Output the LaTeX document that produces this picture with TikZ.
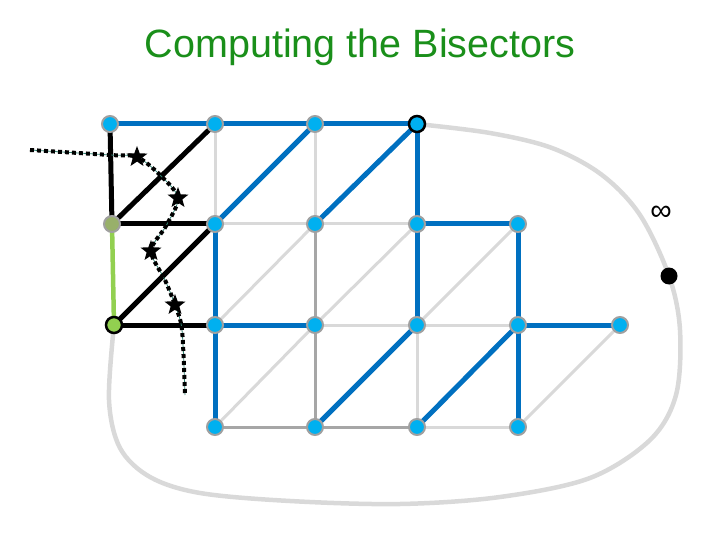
\documentclass[tikz,border=0pt]{standalone}
\usepackage{fontspec}
\setmainfont{Liberation Sans}
\usetikzlibrary{shapes.geometric}
\definecolor{eblue}{HTML}{0070C0}
\definecolor{vcyan}{HTML}{00B0F0}
\definecolor{vgrey}{HTML}{A0A0A0}
\definecolor{lgrey}{HTML}{D9D9D9}
\definecolor{mgrey}{HTML}{A6A6A6}
\definecolor{egreen}{HTML}{92D050}
\definecolor{ggreen}{HTML}{98B06A}
\definecolor{tgreen}{HTML}{1A8F1A}
\definecolor{teal}{HTML}{2F7F6F}
\tikzset{
  vtx/.style={circle,fill=vcyan,draw=vgrey,line width=2pt,minimum size=16pt,inner sep=0pt},
  vtxb/.style={vtx,draw=black,line width=2.5pt},
  lightedge/.style={draw=lgrey,line width=3pt},
  midedge/.style={draw=mgrey,line width=3pt},
  blueedge/.style={draw=eblue,line width=5pt},
  blackedge/.style={draw=black,line width=5pt},
  greenedge/.style={draw=egreen,line width=4.5pt},
  outer/.style={draw=lgrey,line width=4.5pt},
  bisect/.style={draw=black,line width=4pt,dash pattern=on 4pt off 3pt},
  starmark/.style={star,star points=5,star point ratio=2.4,fill=black,minimum size=22pt,inner sep=0pt}
}
\begin{document}
\begin{tikzpicture}[x=1pt,y=-1pt]
\useasboundingbox (0,0) rectangle (720,540);
% title
\node[text=tgreen,font=\fontsize{39.5}{46}\selectfont] (title) at (360,47) {Computing the Bisectors};
% grid coordinates
\coordinate (a1) at (110,124); \coordinate (a2) at (215,124); \coordinate (a3) at (315,124); \coordinate (a4) at (417,124);
\coordinate (b1) at (112,224); \coordinate (b2) at (215,224); \coordinate (b3) at (315,224); \coordinate (b4) at (417,224); \coordinate (b5) at (518,224);
\coordinate (c1) at (114,325); \coordinate (c2) at (215,325); \coordinate (c3) at (315,325); \coordinate (c4) at (417,325); \coordinate (c5) at (518,325); \coordinate (c6) at (620,325);
\coordinate (d2) at (215,427); \coordinate (d3) at (315,427); \coordinate (d4) at (417,427); \coordinate (d5) at (518,427);
\coordinate (inf) at (669,276);
% outer face curve
\draw[outer] plot[smooth,tension=0.55] coordinates {(a4) (490,133) (552,148) (602,175) (640,215) (inf) (680,330) (676,395) (650,440) (590,478) (500,497) (400,504) (290,501) (200,493) (150,477) (120,448) (109,400) (c1)};
% light edges
\foreach \u/\v in {a2/b2,a3/b3,b2/b3,b3/b4,c2/b3,c3/b4,c4/b5,d5/c6,d2/c3,c3/c4,c4/c5,c4/d4,d4/d5}
  \draw[lightedge] (\u) -- (\v);
\foreach \u/\v in {b3/c3,c3/d3,d2/d3,d3/d4}
  \draw[midedge] (\u) -- (\v);
% blue edges
\foreach \u/\v in {a1/a2,a2/a3,a3/a4,b2/a3,b3/a4,a4/b4,b4/c4,b4/b5,b5/c5,c5/d5,c5/c6,b2/c2,c2/d2,c2/c3,d3/c4,d4/c5}
  \draw[blueedge] (\u) -- (\v);
% black edges
\foreach \u/\v in {a1/b1,b1/a2,b1/b2,c1/b2,c1/c2}
  \draw[blackedge] (\u) -- (\v);
\draw[greenedge] (b1) -- (c1);
% bisector path
\coordinate (s0) at (30,150);
\coordinate (s1) at (137,157);
\coordinate (s2) at (178,198);
\coordinate (s3) at (151,251);
\coordinate (s4) at (175,305);
\coordinate (s5) at (185,395);
\draw[teal,line width=0.8pt] plot[smooth,tension=0.5] coordinates {(s0) (110,155) (s1) (160,175) (s2) (166,226) (s3) (165,280) (s4) (182,330) (s5)};
\draw[bisect] plot[smooth,tension=0.5] coordinates {(s0) (110,155) (s1) (160,175) (s2) (166,226) (s3) (165,280) (s4) (182,330) (s5)};
\foreach \s in {s1,s2,s3,s4}
  \node[starmark] (st\s) at (\s) {};
% vertices
\foreach \p in {a1,a2,a3,b2,b3,b4,b5,c2,c3,c4,c5,c6,d2,d3,d4,d5}
  \node[vtx] (n\p) at (\p) {};
\node[vtxb] (na4) at (a4) {};
\node[vtx,fill=ggreen] (nb1) at (b1) {};
\node[vtxb,fill=egreen] (nc1) at (c1) {};
\node[circle,fill=black,minimum size=17pt,inner sep=0pt] (ninf) at (inf) {};
\node[font=\fontsize{30}{34}\selectfont,inner sep=0pt] (infl) at (661,213) {∞};
\end{tikzpicture}
\end{document}
